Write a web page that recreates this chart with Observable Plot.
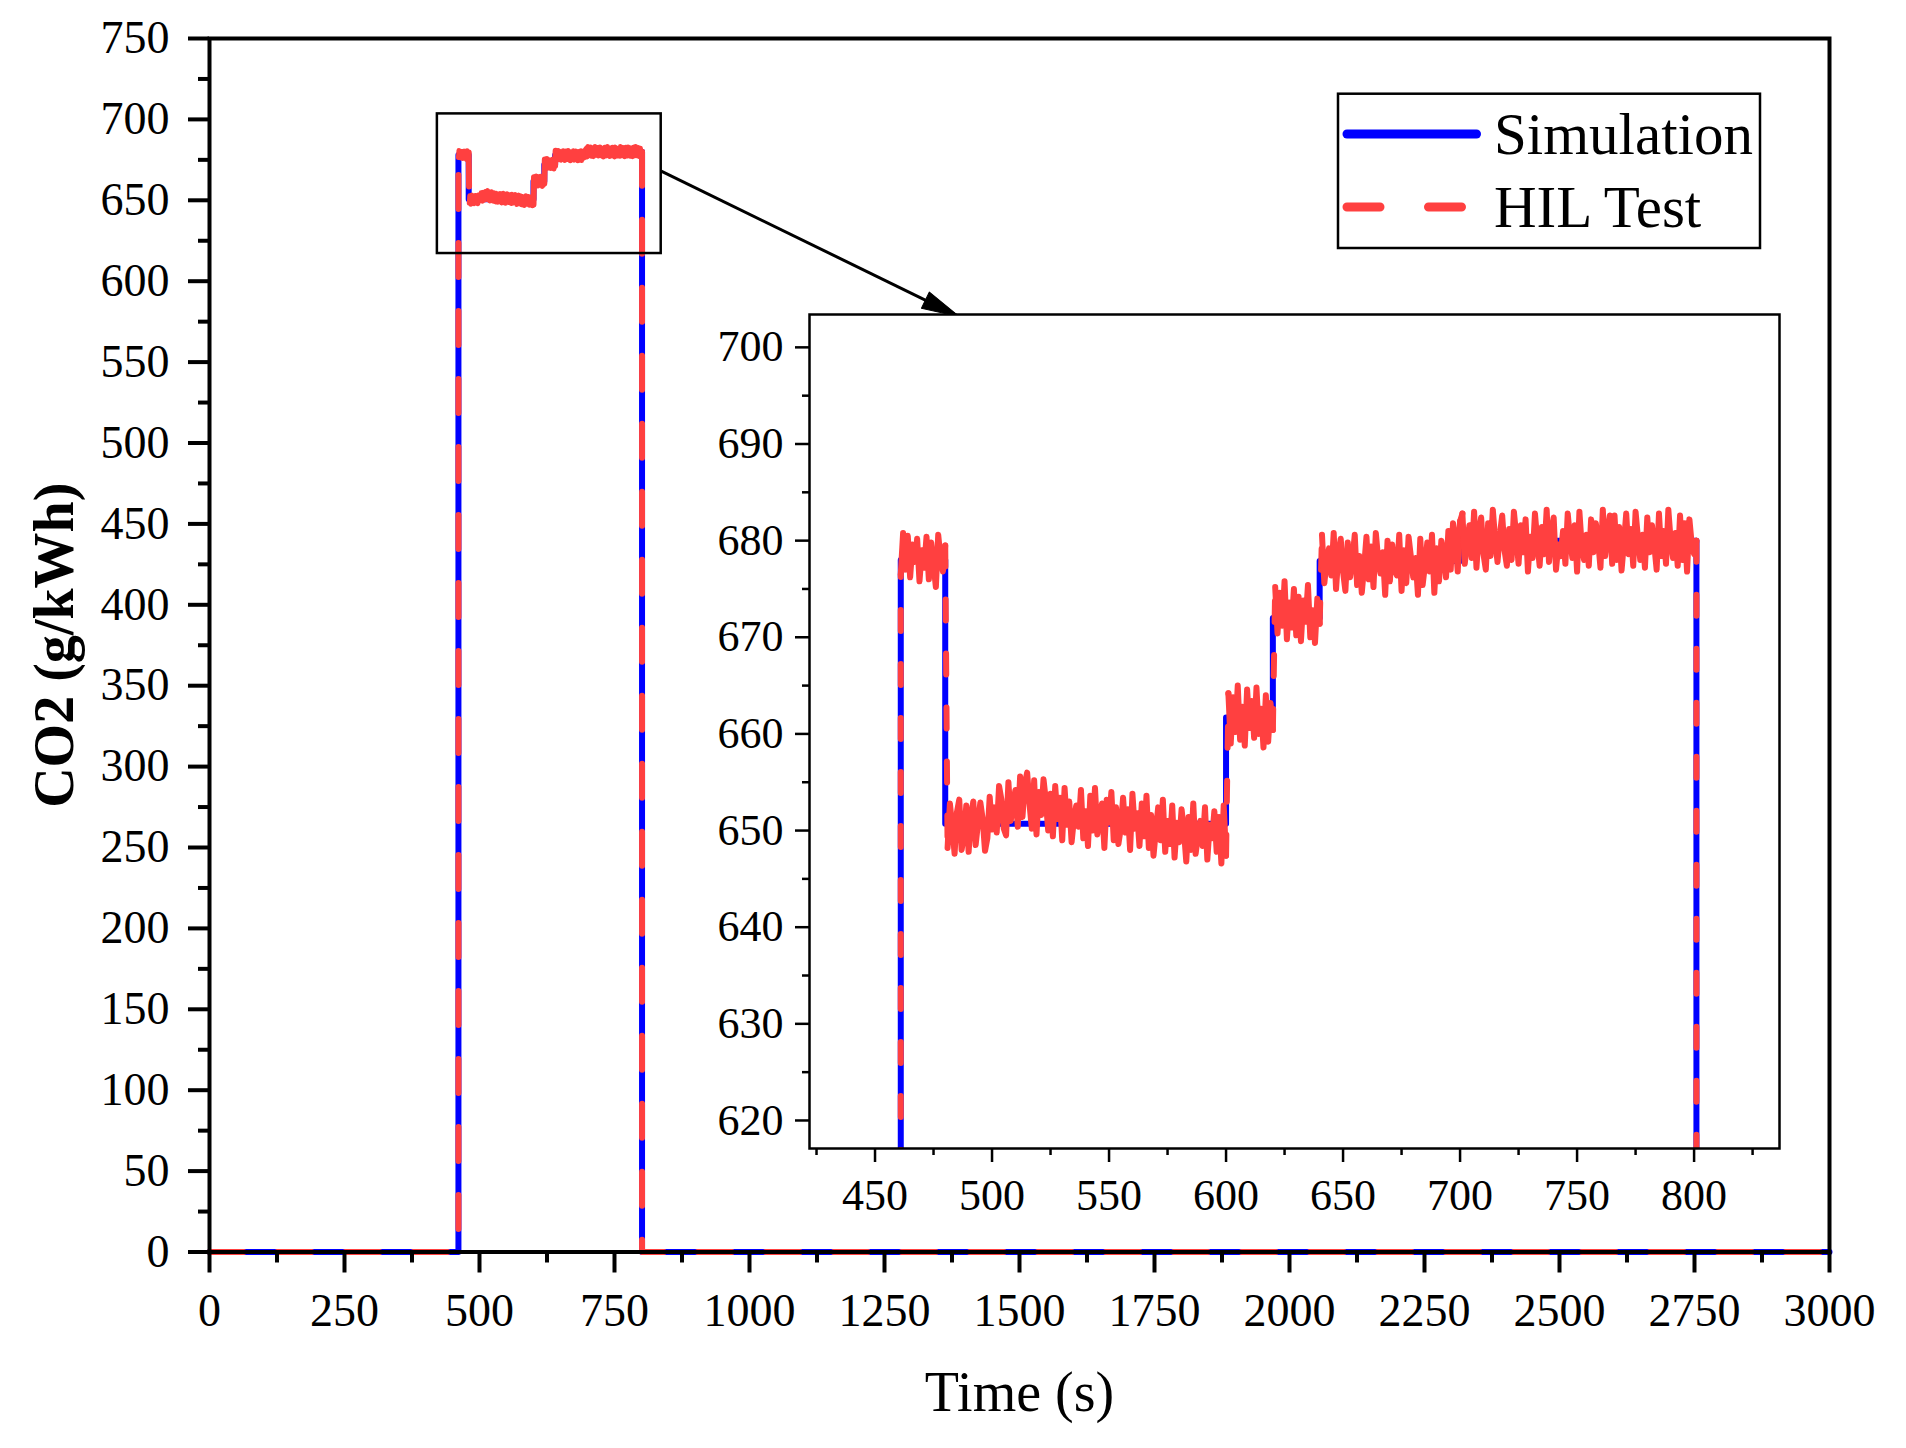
<!DOCTYPE html>
<html><head><meta charset="utf-8">
<script src="https://cdn.jsdelivr.net/npm/d3@7"></script>
<script src="https://cdn.jsdelivr.net/npm/@observablehq/plot@0.6"></script>
<style>
html,body{margin:0;padding:0;background:#fff;}
#chart{position:relative;width:1906px;height:1448px;background:#fff;overflow:hidden;}
#chart svg{position:absolute;left:0;top:0;overflow:visible;}
</style></head><body><div id="chart"></div>
<script>
const FONT = '"Liberation Serif","Times New Roman",Times,serif';

// Simulation: step levels (step-after)
const stepTimes  = [0, 461, 480, 600, 620, 640, 700, 801, 3000];
const stepLevels = [0, 678, 650.7, 661.7, 672, 677.9, 680, 0, 0];

// HIL Test: 1-s samples, plateau by plateau (start times below)
const hilStarts = [461, 481, 601, 621, 641, 701];
const hilA = [676.5,680.8,677.0,680.5,676.2,679.6,677.8,680.2,675.8,679.0,677.2,680.4,676.0,679.8,677.5,675.2,680.6,678.2,676.8,679.5];
const hilB = [
648.2,652.8,650.4,647.6,651.9,653.2,648.0,649.5,652.6,647.8,
651.4,653.0,648.5,650.8,652.9,651.2,647.9,649.2,653.5,650.1,
652.4,649.8,654.6,653.2,650.2,649.5,655.0,651.0,652.8,654.2,
650.4,655.6,651.4,654.8,656.0,652.8,650.2,655.2,649.6,654.0,
651.6,655.3,653.1,650.0,653.8,649.4,654.6,651.2,653.4,649.0,
654.4,650.6,653.0,648.8,651.2,652.6,650.4,654.2,649.2,652.0,
648.4,653.6,650.0,654.4,649.6,651.4,652.8,648.2,653.2,650.8,
654.0,649.0,652.4,648.6,650.2,653.4,649.8,652.2,648.0,653.8,
650.2,651.8,648.4,652.8,649.4,653.6,648.2,651.6,647.4,650.0,
652.4,649.0,653.2,647.8,651.0,648.6,652.6,647.2,650.8,648.8,
652.2,650.0,646.8,651.4,648.0,652.8,647.6,649.5,651.0,648.4,
652.4,647.0,650.6,649.2,652.0,647.8,651.4,646.6,652.6,647.4];
const hilC = [664.2,659.0,663.8,660.2,665.0,659.4,662.8,658.8,664.6,660.6,663.4,659.6,664.8,660.0,662.6,658.6,664.0,659.2,663.2,660.4];
const hilD = [675.2,670.4,674.6,671.2,675.8,669.8,673.6,671.0,675.0,670.2,674.2,669.6,673.8,671.6,675.4,670.0,672.8,669.4,674.0,671.4];
const hilE = [
680.6,675.6,677.9,679.2,676.4,680.8,675.0,678.6,680.2,676.8,
674.8,679.8,676.2,678.0,680.6,675.4,678.4,674.6,677.3,680.4,
676.0,679.4,675.2,680.8,678.1,676.6,678.8,674.4,680.0,675.8,
679.6,677.0,676.4,680.6,674.8,679.0,675.6,680.4,678.3,676.2,
678.2,674.4,680.2,675.4,677.5,679.8,676.8,680.6,674.6,679.2,
675.8,680.0,678.6,676.2,681.0,677.0,681.8,680.2,676.8,682.0];
const hilF = [
682.8,677.6,679.8,681.6,678.2,683.0,677.2,680.8,682.4,678.6,
677.0,681.8,678.4,683.2,680.1,677.8,680.6,682.6,679.0,677.4,
681.2,678.0,683.0,680.5,677.6,681.6,678.8,682.2,676.8,680.4,
678.2,682.8,679.9,677.4,681.4,678.6,683.2,677.8,680.8,682.4,
677.0,679.6,678.4,681.0,677.6,682.8,680.2,678.2,681.6,676.8,
683.0,679.4,678.0,680.6,677.4,682.2,678.8,681.8,680.0,677.2,
683.2,678.4,680.8,682.6,677.6,682.6,678.0,681.4,676.9,679.7,
682.8,678.6,681.2,677.4,683.0,680.3,678.0,680.6,677.2,682.4,
678.8,681.6,679.5,677.0,682.8,678.4,681.0,677.6,683.2,680.0,
678.2,680.8,677.4,682.6,678.0,681.8,676.8,682.2,679.6,678.6,
680.0];
const hilOffLevel = 0;
const timeEnd = 3000;

// Axes / ticks
const xMajorTicks = d3.range(0, 3001, 250);
const xMinorTicks = d3.range(125, 3000, 250);
const yMajorTicks = d3.range(0, 751, 50);
const yMinorTicks = d3.range(25, 750, 50);

// Inset (zoom) window
const insetX = [422, 836.5];
const insetY = [617.1, 703.4];
const insetXMajor = d3.range(450, 801, 50);
const insetXMinor = d3.range(425, 836, 50);
const insetYMajor = d3.range(620, 701, 10);
const insetYMinor = d3.range(625, 700, 10);

// Arrow from zoom box to inset (data coords of main plot)
const arrowFrom = [836.5, 668];
const arrowTo = [1389, 578];

const seriesNames = ["Simulation", "HIL Test"];
const seriesColors = ["#0000ff", "#ff4040"];

// ---- build tables ----
const simData = stepTimes.map((t, i) => ({t, v: stepLevels[i]}));
const hilSegs = [hilA, hilB, hilC, hilD, hilE, hilF];
const hilPlateaus = hilSegs.flatMap((seg, s) => seg.map((v, i) => ({t: hilStarts[s] + i, v, g: s})));
// dashed connectors: off-level → first plateau, jumps between plateaus, last plateau → off-level
const hilConnectors = [];
{
  const first = hilPlateaus[0], last = hilPlateaus[hilPlateaus.length - 1];
  hilConnectors.push({t: 0, v: hilOffLevel, g: 0}, {t: first.t, v: hilOffLevel, g: 0}, {t: first.t, v: first.v, g: 0});
  for (let s = 1; s < hilSegs.length; s++) {
    const a = hilSegs[s - 1], b = hilSegs[s];
    hilConnectors.push({t: hilStarts[s - 1] + a.length - 1, v: a[a.length - 1], g: s}, {t: hilStarts[s], v: b[0], g: s});
  }
  hilConnectors.push({t: last.t, v: last.v, g: 99}, {t: last.t, v: hilOffLevel, g: 99}, {t: timeEnd, v: hilOffLevel, g: 99});
}
const zoomBox = [{x1: insetX[0], x2: insetX[1], y1: insetY[0], y2: insetY[1]}];
const arrowData = [{x1: arrowFrom[0], y1: arrowFrom[1], x2: arrowTo[0], y2: arrowTo[1]}];
const fmt = d => String(d);

const headShape = {
  draw(context, l) {
    context.moveTo(0, -l);
    context.lineTo(-9, 0);
    context.lineTo(9, 0);
    context.closePath();
  }
};

function buildMain(headRotate) {
  const marks = [
    Plot.line(simData, {x: "t", y: "v", curve: "step-after", stroke: seriesColors[0], strokeWidth: 6}),
    Plot.line(hilConnectors, {x: "t", y: "v", z: "g", stroke: seriesColors[1], strokeWidth: 6, strokeDasharray: "34,34"}),
    Plot.line(hilPlateaus, {x: "t", y: "v", z: "g", stroke: seriesColors[1], strokeWidth: 5}),
    Plot.frame({stroke: "black", strokeWidth: 4}),
    Plot.axisX({ticks: xMajorTicks, tickSize: 21, tickPadding: 20, strokeWidth: 4, fontSize: 46, tickFormat: fmt, label: null}),
    Plot.axisX({ticks: xMinorTicks, tickSize: 11, strokeWidth: 4, fill: "none", label: null}),
    Plot.axisY({ticks: yMajorTicks, tickSize: 21, tickPadding: 19, strokeWidth: 4, fontSize: 46, tickFormat: fmt, label: null}),
    Plot.axisY({ticks: yMinorTicks, tickSize: 11, strokeWidth: 4, fill: "none", label: null}),
    Plot.rect(zoomBox, {x1: "x1", x2: "x2", y1: "y1", y2: "y2", fill: "none", stroke: "black", strokeWidth: 2.5}),
    Plot.link(arrowData, {x1: "x1", y1: "y1", x2: "x2", y2: "y2", stroke: "black", strokeWidth: 3}),
    Plot.text(["Time (s)"], {text: d => d, frameAnchor: "bottom", dy: 141, fontSize: 56, lineAnchor: "middle", textAnchor: "middle", fill: "black"}),
    Plot.text(["CO2 (g/kWh)"], {text: d => d, frameAnchor: "left", dx: -154, rotate: -90, fontSize: 56, fontWeight: "bold", lineAnchor: "middle", textAnchor: "middle", fill: "black"})
  ];
  if (headRotate != null) {
    marks.push(Plot.vector(arrowData, {x: "x2", y: "y2", length: 38, rotate: headRotate, anchor: "end", shape: headShape, fill: "black", stroke: "black", strokeWidth: 1}));
  }
  return Plot.plot({
    width: 1906, height: 1448,
    marginLeft: 209, marginRight: 77, marginTop: 38, marginBottom: 196.5,
    x: {domain: [0, 3000], label: null},
    y: {domain: [0, 750], label: null},
    style: {fontFamily: FONT, background: "transparent", color: "black", overflow: "visible"},
    marks
  });
}

let main = buildMain(null);
try {
  const sx = main.scale("x"), sy = main.scale("y");
  const dx = sx.apply(arrowTo[0]) - sx.apply(arrowFrom[0]);
  const dy = sy.apply(arrowTo[1]) - sy.apply(arrowFrom[1]);
  const rot = 90 + Math.atan2(dy, dx) * 180 / Math.PI;
  main = buildMain(rot);
} catch (e) { console.error(e); }

// Legend inside the main frame
const lg = d3.select(main).append("g").attr("font-family", FONT).attr("text-anchor", "start");
lg.append("rect").attr("x", 1338).attr("y", 93.7).attr("width", 422).attr("height", 154.3)
  .attr("fill", "white").attr("stroke", "black").attr("stroke-width", 2.5);
const rows = [134, 207];
seriesNames.forEach((name, i) => {
  lg.append("line").attr("x1", 1347).attr("x2", i === 0 ? 1476.5 : 1462).attr("y1", rows[i]).attr("y2", rows[i])
    .attr("stroke", seriesColors[i]).attr("stroke-width", 9).attr("stroke-linecap", "round")
    .attr("stroke-dasharray", i === 0 ? null : "33,48.5");
  lg.append("text").attr("x", 1494).attr("y", rows[i] + 20).attr("font-size", 59).attr("fill", "black")
    .attr("text-anchor", "start").text(name);
});

const inset = Plot.plot({
  width: 1085, height: 934,
  marginLeft: 110, marginRight: 5, marginTop: 5, marginBottom: 95,
  x: {domain: insetX, label: null},
  y: {domain: insetY, label: null},
  style: {fontFamily: FONT, background: "transparent", color: "black", overflow: "visible"},
  marks: [
    Plot.frame({fill: "white", stroke: "none"}),
    Plot.line(simData, {x: "t", y: "v", curve: "step-after", stroke: seriesColors[0], strokeWidth: 6, clip: true}),
    Plot.line(hilConnectors, {x: "t", y: "v", z: "g", stroke: seriesColors[1], strokeWidth: 6, strokeDasharray: "21,33", clip: true}),
    Plot.line(hilPlateaus, {x: "t", y: "v", z: "g", stroke: seriesColors[1], strokeWidth: 6, clip: true}),
    Plot.frame({stroke: "black", strokeWidth: 2.5}),
    Plot.axisX({ticks: insetXMajor, tickSize: 14, tickPadding: 16, strokeWidth: 2.5, fontSize: 44, tickFormat: fmt, label: null}),
    Plot.axisX({ticks: insetXMinor, tickSize: 7, strokeWidth: 2.5, fill: "none", label: null}),
    Plot.axisY({ticks: insetYMajor, tickSize: 14, tickPadding: 12, strokeWidth: 2.5, fontSize: 44, tickFormat: fmt, label: null}),
    Plot.axisY({ticks: insetYMinor, tickSize: 7, strokeWidth: 2.5, fill: "none", label: null})
  ]
});
inset.style.left = "699px";
inset.style.top = "309px";

const chart = document.getElementById("chart");
chart.appendChild(main);
chart.appendChild(inset);
</script>
</body></html>
